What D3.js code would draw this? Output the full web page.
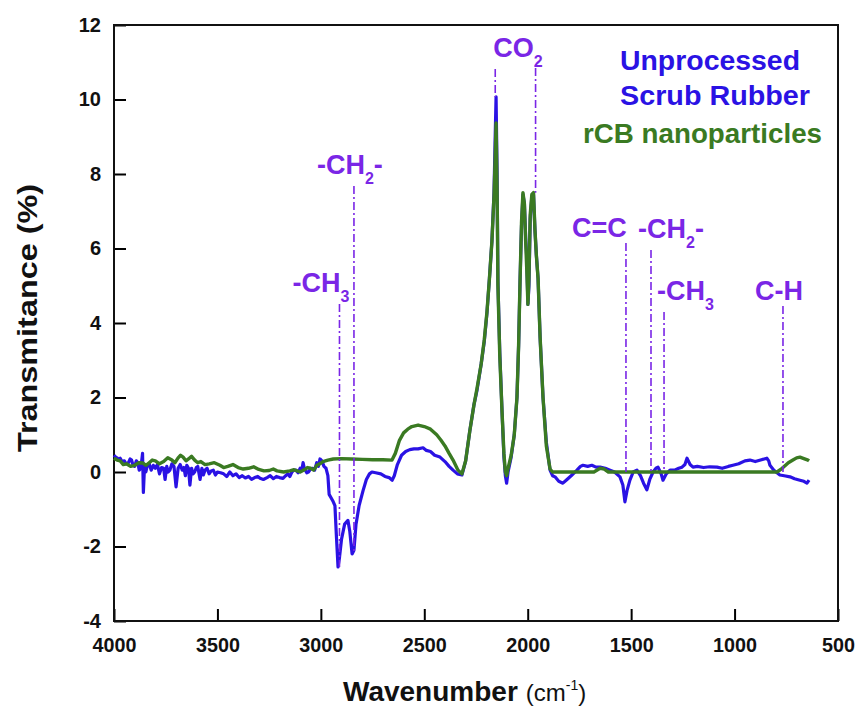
<!DOCTYPE html>
<html>
<head>
<meta charset="utf-8">
<script src="https://cdn.jsdelivr.net/npm/d3@7"></script>
<style>
  body { margin: 0; background: #fff; }
  svg { display: block; }
</style>
</head>
<body>
<div id="chart"></div>
<script>
// FTIR spectra
var blueWn = [4000,3992,3985,3978,3970,3962,3950,3942,3930,3922,3915,3908,3900,3892,3885,3878,3870,3862,3858,3852,3846,3840,3830,3820,3810,3800,3790,3780,3770,3760,3753,3745,3738,3730,3720,3710,3700,3690,3680,3670,3662,3655,3648,3640,3633,3625,3618,3610,3602,3595,3584,3575,3568,3560,3550,3540,3530,3520,3510,3500,3485,3470,3455,3440,3425,3410,3395,3380,3365,3350,3335,3320,3305,3294,3278,3260,3245,3230,3215,3200,3183,3170,3160,3150,3140,3130,3120,3110,3100,3092,3086,3080,3075,3068,3060,3050,3040,3030,3020,3012,3004,2995,2985,2975,2966,2960,2950,2940,2932,2925,2917,2910,2900,2885,2869,2860,2849,2840,2830,2815,2796,2780,2765,2753,2735,2710,2690,2670,2655,2645,2630,2610,2590,2570,2550,2530,2506,2490,2470,2450,2424,2400,2380,2361,2340,2318,2300,2280,2260,2245,2225,2210,2197,2185,2173,2163,2158,2153,2148,2144,2135,2124,2115,2108,2102,2095,2080,2065,2052,2044,2037,2030,2023,2016,2010,2005,1999,1994,1988,1980,1972,1965,1958,1950,1940,1926,1910,1892,1880,1868,1850,1830,1810,1790,1762,1745,1733,1710,1690,1670,1650,1625,1602,1580,1554,1540,1530,1520,1506,1490,1472,1455,1440,1424,1410,1394,1380,1370,1355,1346,1330,1312,1290,1270,1254,1240,1230,1215,1201,1180,1150,1120,1085,1060,1030,1008,980,950,926,900,870,844,835,829,810,795,781,760,732,710,684,665,650,640];
var blueT = [0.45,0.40,0.38,0.33,0.37,0.28,0.30,0.22,0.25,0.35,0.32,0.18,0.15,0.30,0.25,0.05,0.10,0.50,-0.55,0.20,0.00,0.15,0.22,0.05,0.18,0.10,0.20,-0.05,0.12,0.10,-0.20,0.15,0.00,0.05,0.22,0.15,-0.40,0.10,0.20,0.05,0.12,-0.10,0.18,0.10,-0.35,0.10,-0.05,0.00,0.12,0.15,-0.20,0.10,-0.08,0.05,0.10,-0.05,0.03,0.05,-0.08,0.00,-0.02,-0.05,-0.12,0.00,-0.10,-0.05,-0.15,-0.10,-0.16,-0.12,-0.20,-0.15,-0.12,-0.17,-0.20,-0.15,-0.10,-0.18,-0.12,-0.15,-0.17,-0.10,-0.05,-0.12,0.00,0.05,0.05,-0.02,0.10,0.05,0.25,0.10,0.05,-0.02,0.00,0.08,0.10,0.05,0.25,0.15,0.35,0.30,0.15,0.10,-0.10,-0.60,-0.70,-0.80,-0.90,-1.70,-2.55,-2.30,-1.80,-1.40,-1.30,-1.60,-2.20,-2.10,-1.40,-0.90,-0.50,-0.20,-0.05,0.00,-0.02,-0.05,-0.12,-0.15,-0.22,-0.10,0.20,0.45,0.55,0.60,0.62,0.62,0.65,0.58,0.55,0.45,0.40,0.28,0.15,0.05,-0.05,-0.08,0.30,1.10,1.80,2.20,2.90,3.50,4.27,5.20,6.20,7.50,8.80,10.07,8.00,5.10,3.20,1.60,0.40,-0.10,-0.30,0.00,0.40,1.00,2.00,3.40,5.15,6.60,7.45,7.20,6.30,5.80,4.50,5.00,6.80,7.40,7.45,6.50,5.80,5.20,3.60,2.00,0.80,0.05,-0.10,-0.13,-0.25,-0.30,-0.20,-0.10,0.05,0.15,0.18,0.15,0.18,0.13,0.13,0.10,0.05,0.00,-0.13,-0.35,-0.80,-0.50,-0.22,0.00,0.05,-0.10,-0.30,-0.48,-0.20,0.00,0.10,0.13,-0.05,-0.22,-0.05,0.05,0.05,0.10,0.13,0.20,0.37,0.20,0.13,0.15,0.12,0.14,0.13,0.10,0.15,0.18,0.22,0.30,0.32,0.28,0.33,0.37,0.30,0.18,0.05,-0.02,-0.08,-0.10,-0.13,-0.18,-0.22,-0.25,-0.30,-0.22];

var greenWn = [4000,3985,3970,3955,3940,3920,3900,3880,3860,3845,3830,3815,3800,3780,3760,3740,3720,3705,3690,3678,3666,3652,3640,3625,3610,3595,3580,3560,3540,3515,3488,3470,3450,3425,3400,3375,3350,3325,3300,3275,3250,3230,3212,3180,3150,3130,3115,3100,3080,3065,3050,3035,3019,3005,2990,2966,2940,2900,2850,2800,2750,2700,2656,2640,2620,2600,2580,2560,2530,2500,2470,2440,2420,2400,2380,2361,2337,2318,2300,2280,2260,2245,2225,2210,2197,2185,2173,2163,2158,2153,2148,2144,2135,2124,2115,2108,2102,2095,2080,2065,2052,2044,2037,2030,2023,2016,2010,2005,1999,1994,1988,1980,1972,1965,1958,1950,1940,1926,1910,1892,1880,1680,1650,1630,1610,1200,795,770,740,718,700,684,665,645,640];
var greenT = [0.37,0.32,0.30,0.20,0.22,0.15,0.18,0.25,0.24,0.18,0.25,0.32,0.30,0.22,0.28,0.38,0.32,0.25,0.38,0.45,0.40,0.30,0.35,0.42,0.32,0.25,0.28,0.20,0.22,0.25,0.18,0.12,0.15,0.20,0.12,0.08,0.10,0.14,0.07,0.03,0.04,0.08,0.03,0.00,0.03,0.06,0.03,0.00,0.06,0.12,0.10,0.05,0.18,0.22,0.28,0.32,0.35,0.36,0.35,0.34,0.33,0.33,0.32,0.50,0.85,1.05,1.15,1.22,1.26,1.22,1.15,1.00,0.86,0.70,0.50,0.32,0.05,-0.05,0.30,1.10,1.80,2.25,2.90,3.55,4.30,5.20,6.20,7.40,8.30,9.37,7.60,5.00,3.10,1.60,0.50,0.00,-0.10,0.10,0.45,1.00,2.00,3.40,5.15,6.70,7.50,7.20,6.20,5.50,4.50,5.20,6.90,7.45,7.50,6.50,5.80,5.20,3.60,2.00,0.70,0.08,0.00,0.00,0.10,0.08,0.00,0.00,0.00,0.10,0.25,0.32,0.38,0.40,0.36,0.32,0.30];

var xTicks = [4000, 3500, 3000, 2500, 2000, 1500, 1000, 500];
var yTicks = [-4, -2, 0, 2, 4, 6, 8, 10, 12];

// peak assignments: main text, subscript, trailing text, wavenumber, where the line ends (%)
var peakMain   = ['-CH', '-CH', 'CO', 'C=C', '-CH', '-CH', 'C-H'];
var peakSub    = ['3', '2', '2', '', '2', '3', ''];
var peakTail   = ['', '-', '', '', '-', '', ''];
var peakWn     = [2910, 2840, 2157, 1525, 1404, 1341, 766];
var peakLineTo = [-2.55, -2.2, 10.07, 0, 0, 0, 0];
var co2SecondWn = 1962, co2SecondTo = 7.5;

var legendText = ['Unprocessed', 'Scrub Rubber', 'rCB nanoparticles'];

var W = 859, H = 709;
var blue = '#2a12e4', green = '#3a7a22', purple = '#7a26e6';

var svg = d3.select('#chart').append('svg').attr('width', W).attr('height', H)
    .style('font-family', '"Liberation Sans", Arial, sans-serif');

var x = d3.scaleLinear().domain([4000, 500]).range([114, 838]);
var y = d3.scaleLinear().domain([-4, 12]).range([621, 25]);

// axes (ticks point inward), plain hyphen for negatives, no thousands comma
var fmt = function (d) { return String(d); };
var xAxis = d3.axisBottom(x).tickValues(xTicks).tickFormat(fmt).tickSizeInner(-12).tickSizeOuter(0).tickPadding(17);
var yAxis = d3.axisLeft(y).tickValues(yTicks).tickFormat(fmt).tickSizeInner(-12).tickSizeOuter(0).tickPadding(13);

var gx = svg.append('g').attr('transform', 'translate(0,621)').call(xAxis);
var gy = svg.append('g').attr('transform', 'translate(114,0)').call(yAxis);
[gx, gy].forEach(function (g) {
    g.select('.domain').remove();
    g.selectAll('line').attr('stroke', '#000').attr('stroke-width', 2);
    g.selectAll('text').attr('fill', '#111').style('font-size', '20px').style('font-weight', 'bold');
});
gx.selectAll('text').attr('textLength', 44).attr('lengthAdjust', 'spacingAndGlyphs');
gx.selectAll('text').filter(function (d) { return d === 500; }).attr('textLength', 33);

// frame
svg.append('rect').attr('x', 114).attr('y', 25).attr('width', 838 - 114).attr('height', 621 - 25)
    .attr('fill', 'none').attr('stroke', '#111').attr('stroke-width', 2);

// spectra
var line = d3.line().x(function (d) { return x(d[0]); }).y(function (d) { return y(d[1]); });
svg.append('path').datum(d3.zip(blueWn, blueT)).attr('d', line)
    .attr('fill', 'none').attr('stroke', blue).attr('stroke-width', 3.2).attr('stroke-linejoin', 'round');
svg.append('path').datum(d3.zip(greenWn, greenT)).attr('d', line)
    .attr('fill', 'none').attr('stroke', green).attr('stroke-width', 3.4).attr('stroke-linejoin', 'round');

// annotation lines + labels (label offsets relative to the line, pixels)
var labelDx = [-47, -37, -2, -54, -13, -7, -28];
var labelY = [292, 174, 57, 237, 238, 300, 300];
var dash = '8,3,2,3';

peakWn.forEach(function (wn, i) {
    var lx = x(wn);
    var top = labelY[i] + (peakSub[i] ? 12 : 6);
    svg.append('line').attr('x1', lx).attr('x2', lx).attr('y1', top).attr('y2', y(peakLineTo[i]))
        .attr('stroke', purple).attr('stroke-width', 1.6).attr('stroke-dasharray', dash);
    var t = svg.append('text').attr('x', lx + labelDx[i]).attr('y', labelY[i])
        .attr('fill', purple).style('font-size', '27px').style('font-weight', 'bold');
    t.append('tspan').text(peakMain[i]);
    if (peakSub[i]) t.append('tspan').attr('dy', 10).style('font-size', '16px').text(peakSub[i]);
    if (peakTail[i]) t.append('tspan').attr('dy', -10).text(peakTail[i]);
});
svg.append('line').attr('x1', x(co2SecondWn)).attr('x2', x(co2SecondWn))
    .attr('y1', 68).attr('y2', y(co2SecondTo))
    .attr('stroke', purple).attr('stroke-width', 1.6).attr('stroke-dasharray', dash);

// legend text
var legX = [620, 620, 583], legY = [70, 105, 143], legW = [180, 190, 239];
var legC = [blue, blue, green];
legendText.forEach(function (s, i) {
    svg.append('text').attr('x', legX[i]).attr('y', legY[i]).text(s)
        .attr('fill', legC[i]).attr('textLength', legW[i]).attr('lengthAdjust', 'spacingAndGlyphs')
        .style('font-size', '27px').style('font-weight', 'bold');
});

// axis titles
svg.append('text').attr('transform', 'translate(37,318) rotate(-90)').attr('text-anchor', 'middle')
    .attr('textLength', 268).attr('lengthAdjust', 'spacingAndGlyphs')
    .attr('fill', '#111').style('font-size', '27px').style('font-weight', 'bold')
    .text('Transmitance (%)');

var xt = svg.append('text').attr('x', 343).attr('y', 701).attr('fill', '#111');
xt.append('tspan').style('font-size', '28px').style('font-weight', 'bold').text('Wavenumber');
xt.append('tspan').attr('dx', 8).style('font-size', '24px').text('(cm');
xt.append('tspan').attr('dy', -11).style('font-size', '14px').text('-1');
xt.append('tspan').attr('dy', 11).style('font-size', '24px').text(')');
</script>
</body>
</html>
